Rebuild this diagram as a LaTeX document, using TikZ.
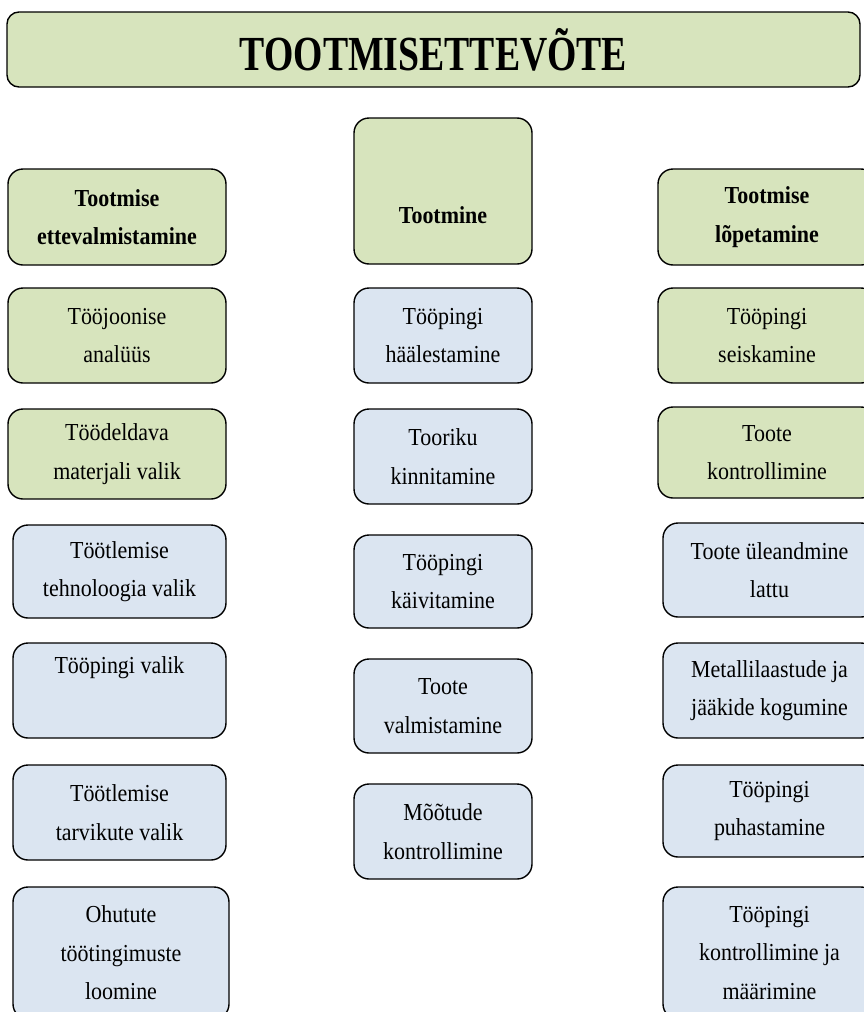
\documentclass[tikz,border=0pt]{standalone}
\usepackage{fontspec}
\setmainfont{Liberation Serif}[FakeStretch=0.9]
\newfontfamily\titlefont{Liberation Serif}[FakeStretch=0.77]
\usepackage{xcolor}
\definecolor{stepgreen}{HTML}{D7E4BD}
\definecolor{stepblue}{HTML}{DBE5F1}

\begin{document}
\begin{tikzpicture}[x=1pt,y=-1pt,
		card/.style={draw, line width=1.4pt, rounded corners=15pt, align=center, inner sep=0pt, font=\fontsize{24.4}{38.5}\selectfont},
		gcard/.style={card, fill=stepgreen},
		bcard/.style={card, fill=stepblue},
		head/.style={font=\fontsize{24.4}{38.5}\selectfont\bfseries},
		lcol/.style={minimum width=218pt},
		lcolb/.style={minimum width=213pt},
		mcol/.style={minimum width=178pt},
		rcol/.style={minimum width=218pt},
		rcolb/.style={minimum width=213pt}]
		\useasboundingbox (0,0) rectangle (864,1012);
		\node[gcard, rounded corners=12pt, minimum width=853pt, minimum height=75pt] (title) at (433.5,49.5) {\titlefont\bfseries\fontsize{49}{50}\selectfont TOOTMISETTEVÕTE};
		
		\node[gcard, head, lcol, minimum height=96pt] (prep) at (117,217) {Tootmise\\ettevalmistamine};
		\node[gcard, lcol, minimum height=95pt] (joonis) at (117,335.5) {Tööjoonise\\analüüs};
		\node[gcard, lcol, minimum height=90pt] (materjal) at (117,454) {Töödeldava\\materjali valik};
		\node[bcard, lcolb, minimum height=93pt] (tehnoloogia) at (119.5,571.5) {Töötlemise\\tehnoloogia valik};
		\node[bcard, lcolb, minimum height=95pt] (pink) at (119.5,690.5) {Tööpingi valik\\\strut};
		\node[bcard, lcolb, minimum height=95pt] (tarvikud) at (119.5,812.5) {Töötlemise\\tarvikute valik};
		\node[bcard, minimum width=216pt, minimum height=132pt] (ohutus) at (121,953) {Ohutute\\töötingimuste\\loomine};
		
		\node[gcard, head, mcol, minimum height=146pt] (tootmine) at (443,191) {\strut\\Tootmine};
		\node[bcard, mcol, minimum height=95pt] (haalestus) at (443,335.5) {Tööpingi\\häälestamine};
		\node[bcard, mcol, minimum height=95pt] (kinnitus) at (443,456.5) {Tooriku\\kinnitamine};
		\node[bcard, mcol, minimum height=93pt] (kaivitus) at (443,581.5) {Tööpingi\\käivitamine};
		\node[bcard, mcol, minimum height=94pt] (valmistus) at (443,706) {Toote\\valmistamine};
		\node[bcard, mcol, minimum height=95pt] (mootmine) at (443,831.5) {Mõõtude\\kontrollimine};
		
		\node[gcard, head, rcol, minimum height=96pt] (lopp) at (767,217) {Tootmise\\lõpetamine};
		\node[gcard, rcol, minimum height=95pt] (seiskamine) at (767,335.5) {Tööpingi\\seiskamine};
		\node[gcard, rcol, minimum height=91pt] (kontroll) at (767,452.5) {Toote\\kontrollimine};
		\node[bcard, rcolb, minimum height=94pt] (ladu) at (769.5,570) {Toote üleandmine\\lattu};
		\node[bcard, rcolb, minimum height=95pt] (laastud) at (769.5,690.5) {Metallilaastude ja\\jääkide kogumine};
		\node[bcard, rcolb, minimum height=92pt] (puhastus) at (769.5,811) {Tööpingi\\puhastamine};
		\node[bcard, rcolb, minimum height=132pt] (maarimine) at (769.5,953) {Tööpingi\\kontrollimine ja\\määrimine};
	\end{tikzpicture}
\end{document}
